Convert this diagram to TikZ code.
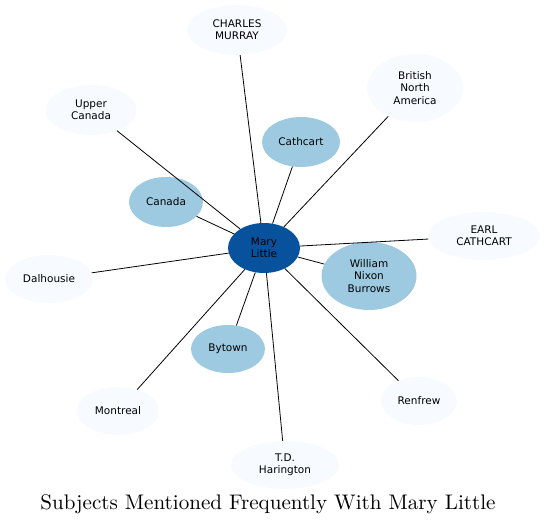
\documentclass[tikz,border=0pt]{standalone}
\usepackage{fontspec}
\newfontfamily\nodefont{DejaVu Sans}
\usetikzlibrary{shapes.geometric}
\definecolor{cdark}{HTML}{08519C}
\definecolor{cmid}{HTML}{9ECAE1}
\definecolor{clight}{HTML}{F7FBFF}
\tikzset{
  ent/.style args={#1/#2}{ellipse, inner sep=0pt, minimum width=2*#1, minimum height=2*#2,
    align=center, font=\nodefont\fontsize{10.5}{12.2}\selectfont, text=black},
  lvl0/.style={ent=#1, fill=cdark},
  lvl1/.style={ent=#1, fill=cmid},
  lvl2/.style={ent=#1, fill=clight},
  link/.style={draw=black, line width=0.8pt}
}
\begin{document}
\begin{tikzpicture}[x=1pt,y=-1pt]
\useasboundingbox (0,0) rectangle (545,526);
\node[lvl0={36pt/25pt}] (ml) at (264,248) {Mary\\Little};
\node[lvl1={47.5pt/34pt}] (wnb) at (369,276) {William\\Nixon\\Burrows};
\node[lvl1={39pt/25pt}] (cath) at (301,142) {Cathcart};
\node[lvl1={37pt/25pt}] (can) at (166,202) {Canada};
\node[lvl1={37pt/24pt}] (byt) at (228,349) {Bytown};
\node[lvl2={50pt/25pt}] (cm) at (237,30) {CHARLES\\MURRAY};
\node[lvl2={45.5pt/25pt}] (uc) at (91,110) {Upper\\Canada};
\node[lvl2={48pt/34pt}] (bna) at (415,88) {British\\North\\America};
\node[lvl2={56pt/24pt}] (ec) at (484,236) {EARL\\CATHCART};
\node[lvl2={44pt/24pt}] (dal) at (49,279) {Dalhousie};
\node[lvl2={41pt/24pt}] (mon) at (118,411) {Montreal};
\node[lvl2={38pt/24pt}] (ren) at (419,401) {Renfrew};
\node[lvl2={54pt/24pt}] (tdh) at (285,465) {T.D.\\Harington};
\foreach \n in {wnb,cath,can,byt,cm,uc,bna,ec,dal,mon,ren,tdh}
  \draw[link] (ml) -- (\n);
\node (title) at (268,504) {\resizebox{455pt}{!}{Subjects Mentioned Frequently With Mary Little}};
\end{tikzpicture}
\end{document}
